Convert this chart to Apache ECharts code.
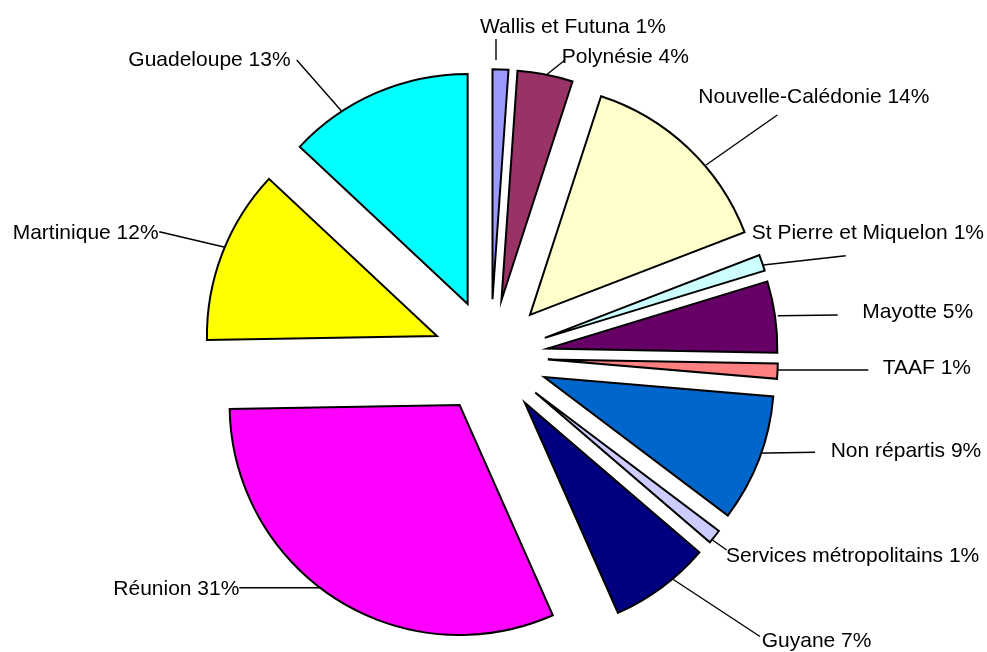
<!DOCTYPE html>
<html><head><meta charset="utf-8">
<script src="https://cdn.jsdelivr.net/npm/echarts@6/dist/echarts.min.js"></script>
<style>html,body{margin:0;padding:0;background:#fff}#chart{width:987px;height:652px}</style>
</head><body><div id="chart"></div>
<script>
// Data (clockwise from 12 o'clock)
const categories = ['Wallis et Futuna', 'Polynésie', 'Nouvelle-Calédonie', 'St Pierre et Miquelon', 'Mayotte', 'TAAF', 'Non répartis', 'Services métropolitains', 'Guyane', 'Réunion', 'Martinique', 'Guadeloupe'];
const shares = [1.11, 3.89, 14.14, 1.14, 5.0, 1.06, 8.94, 1.0, 7.08, 31.36, 12.25, 13.03];
const percentLabels = ['1%', '4%', '14%', '1%', '5%', '1%', '9%', '1%', '7%', '31%', '12%', '13%'];

// Styles / layout (label annotations)
const sliceColors = ['#9999FF', '#993366', '#FFFFCC', '#CCFFFF', '#660066', '#FF8080', '#0066CC', '#CCCCFF', '#000080', '#FF00FF', '#FFFF00', '#00FFFF'];
const labelAnchors = [[480, 27], [561.7, 57.5], [698.3, 97.5], [751.7, 233.7], [862.3, 312.5], [882.7, 368], [830.7, 451.5], [726, 555.8], [761.7, 641], [113.3, 589.5], [12.7, 233], [128.3, 60]];
const leaderLines = [
  [[496, 39], [496, 60]],
  [[565, 60], [540, 80]],
  [[777.3, 115], [706, 165]],
  [[845.7, 255.7], [763.3, 265]],
  [[837.7, 315], [777.7, 315.7]],
  [[868.3, 370], [777.7, 370]],
  [[815, 452.3], [751.7, 453.3]],
  [[726.7, 550], [704, 534]],
  [[760, 636.5], [668, 576]],
  [[239.3, 587.7], [320, 587.7]],
  [[159.3, 231.7], [225, 247.3]],
  [[296.7, 60], [345, 115]]
];
const PIE_CENTER = [490.5, 356.6], PIE_RADIUS = 230, EXPLODE = 57.4;

const total = shares.reduce((a, b) => a + b, 0);
let cum = 0;
const series = shares.map((v, i) => {
  const mid = (cum + v / 2) / total * 2 * Math.PI;
  cum += v;
  const cx = PIE_CENTER[0] + EXPLODE * Math.sin(mid);
  const cy = PIE_CENTER[1] - EXPLODE * Math.cos(mid);
  return {
    type: 'pie',
    center: [cx, cy],
    radius: PIE_RADIUS,
    startAngle: 90,
    clockwise: true,
    silent: true,
    animation: false,
    avoidLabelOverlap: false,
    emphasis: { disabled: true },
    data: categories.map((name, j) => ({
      name: name,
      value: shares[j],
      itemStyle: j === i
        ? { color: sliceColors[j], borderColor: '#000', borderWidth: 2, borderJoin: 'miter' }
        : { color: 'rgba(0,0,0,0)', borderWidth: 0 },
      label: { show: j === i },
      labelLine: { show: j === i }
    })),
    label: {
      show: true,
      position: 'outside',
      color: '#000',
      fontSize: 21,
      fontFamily: '"Liberation Sans", Arial, sans-serif',
      formatter: p => p.name + ' ' + percentLabels[p.dataIndex]
    },
    labelLine: { show: true, length: 10, length2: 0, smooth: false, lineStyle: { color: '#000', width: 1.4 } },
    labelLayout: p => ({
      x: labelAnchors[p.dataIndex][0],
      y: labelAnchors[p.dataIndex][1],
      align: 'left',
      verticalAlign: 'middle',
      labelLinePoints: leaderLines[p.dataIndex]
    })
  };
});

const chart = echarts.init(document.getElementById('chart'), null, { renderer: 'canvas' });
chart.setOption({
  animation: false,
  backgroundColor: '#fff',
  series: series
});
</script>
</body></html>
